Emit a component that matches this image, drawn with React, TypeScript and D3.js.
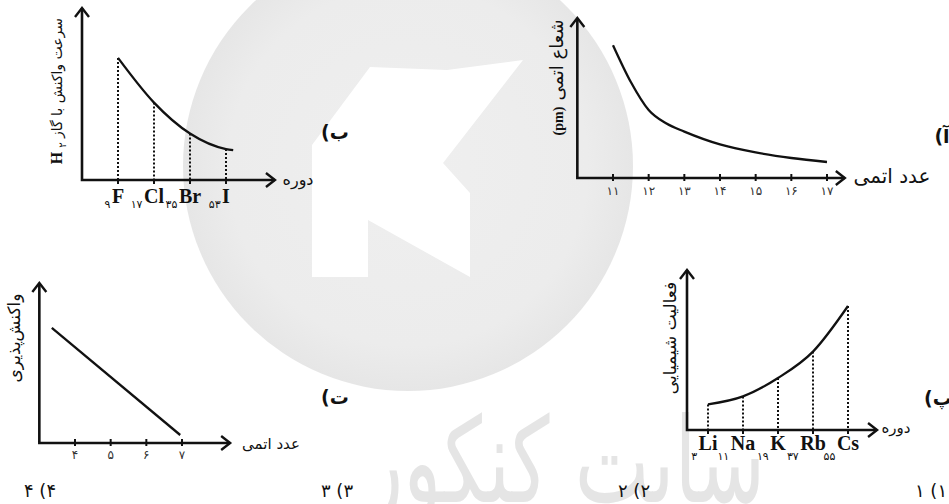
import { useEffect, useRef } from "react";
import * as d3 from "d3";

const FA = "'DejaVu Sans', sans-serif";
const SERIF = "'Liberation Serif', 'Times New Roman', serif";
const INK = "#111";

// (آ) atomic radius vs atomic number, period 3 (half steps read where the curve bends)
const atomicNumbersA = [11, 12, 13, 14, 15, 16, 17];
const atomicLabelsA = ["۱۱", "۱۲", "۱۳", "۱۴", "۱۵", "۱۶", "۱۷"];
const radiusCurveZ = [11, 11.5, 12, 12.5, 13, 14, 15, 16, 17];
const radiusCurve = [83, 60, 42.5, 34, 29, 21, 16, 12.5, 10];

// (ب) rate of reaction with H2, halogens
const halogens = ["F", "Cl", "Br", "I"];
const halogenZ = ["۹", "۱۷", "۳۵", "۵۳"];
const h2Rate = [71, 45, 27, 18];
const h2RateTail = { slot: 3.2, value: 17.4 };

// (پ) chemical activity, alkali metals
const alkali = ["Li", "Na", "K", "Rb", "Cs"];
const alkaliZ = ["۳", "۱۱", "۱۹", "۳۷", "۵۵"];
const activity = [16, 21, 32.5, 49, 77.5];

// (ت) reactivity vs atomic number
const atomicNumbersT = [4, 5, 6, 7];
const atomicLabelsT = ["۴", "۵", "۶", "۷"];
const reactivityLine = [
  { z: 3.35, value: 72 },
  { z: 6.95, value: 5 },
];

const options = ["۱) ۱", "۲) ۲", "۳) ۳", "۴) ۴"];

type G = d3.Selection<SVGGElement, unknown, null, undefined>;

const drawAxes = (g: G, ox: number, oy: number, tipX: number, tipY: number) => {
  g.append("path")
    .attr("d", `M${ox},${tipY}V${oy}H${tipX}`)
    .attr("fill", "none")
    .attr("stroke", INK)
    .attr("stroke-width", 2.6);
  g.append("path")
    .attr("d", `M${ox - 7},${tipY + 9}L${ox},${tipY}L${ox + 7},${tipY + 9}`)
    .attr("fill", "none")
    .attr("stroke", INK)
    .attr("stroke-width", 2.4);
  g.append("path")
    .attr("d", `M${tipX - 9},${oy - 7}L${tipX},${oy}L${tipX - 9},${oy + 7}`)
    .attr("fill", "none")
    .attr("stroke", INK)
    .attr("stroke-width", 2.4);
};

const faText = (g: G, x: number, y: number, text: string, size: number, bold = false) =>
  g
    .append("text")
    .attr("x", x)
    .attr("y", y)
    .attr("direction", "rtl")
    .attr("text-anchor", "middle")
    .attr("font-family", FA)
    .attr("font-size", size)
    .attr("font-weight", bold ? "bold" : "normal")
    .attr("fill", INK)
    .text(text);

const vText = (g: G, x: number, y: number, text: string, size: number, font = FA, weight = "normal") =>
  g
    .append("text")
    .attr("transform", `translate(${x},${y}) rotate(-90)`)
    .attr("direction", font === FA ? "rtl" : "ltr")
    .attr("text-anchor", "middle")
    .attr("font-family", font)
    .attr("font-size", size)
    .attr("font-weight", weight)
    .attr("fill", INK)
    .text(text);

// element symbol with its atomic number as a low, left-hand subscript
const elementLabels = (
  g: G,
  xs: number[],
  symbols: string[],
  numbers: string[],
  baseline: number,
  subBaseline: number
) => {
  symbols.forEach((sym, i) => {
    const t = g
      .append("text")
      .attr("x", xs[i])
      .attr("y", baseline)
      .attr("text-anchor", "middle")
      .attr("font-family", SERIF)
      .attr("font-weight", "bold")
      .attr("font-size", 20)
      .attr("fill", INK)
      .text(sym);
    const bb = (t.node() as SVGTextElement).getBBox();
    g.append("text")
      .attr("x", bb.x - 1.5)
      .attr("y", subBaseline)
      .attr("text-anchor", "end")
      .attr("font-family", FA)
      .attr("font-size", 11)
      .attr("fill", INK)
      .text(numbers[i]);
  });
};

export default function App() {
  const svgRef = useRef<SVGSVGElement>(null);

  useEffect(() => {
    if (!svgRef.current) return;
    const svg = d3.select(svgRef.current);
    svg.selectAll("*").remove();

    // watermark
    const defs = svg.append("defs");
    const grad = defs.append("radialGradient").attr("id", "wm");
    grad.append("stop").attr("offset", "0%").attr("stop-color", "#efefef");
    grad.append("stop").attr("offset", "80%").attr("stop-color", "#ececec");
    grad.append("stop").attr("offset", "100%").attr("stop-color", "#e6e6e6");
    const wm = svg.append("g");
    wm.append("circle").attr("cx", 408).attr("cy", 166).attr("r", 225).attr("fill", "url(#wm)");
    wm.append("path")
      .attr(
        "d",
        "M312,145L370,67L447,70L523,60L443,163L470,193L470,277L368,220L368,277L312,277Z"
      )
      .attr("fill", "#fff");
    wm.append("text")
      .attr("x", 365)
      .attr("y", 502)
      .attr("text-anchor", "start")
      .attr("font-family", FA)
      .attr("font-size", 118)
      .attr("textLength", 400)
      .attr("lengthAdjust", "spacingAndGlyphs")
      .attr("fill", "#e5e5e5")
      .text("سایت کنکور");

    const smooth = d3
      .line<[number, number]>()
      .x((d) => d[0])
      .y((d) => d[1])
      .curve(d3.curveMonotoneX);

    // ---------- (آ)
    {
      const g = svg.append("g");
      const x = d3.scaleLinear().domain([11, 17]).range([613, 827]);
      const y = d3.scaleLinear().domain([0, 100]).range([178, 18]);
      drawAxes(g, x(10), y(0), x(17.5), y(100));
      atomicNumbersA.forEach((z, i) => {
        g.append("line")
          .attr("x1", x(z))
          .attr("x2", x(z))
          .attr("y1", y(0) - 4)
          .attr("y2", y(0) + 3)
          .attr("stroke", INK)
          .attr("stroke-width", 2);
        g.append("text")
          .attr("x", x(z))
          .attr("y", 195)
          .attr("text-anchor", "middle")
          .attr("font-family", FA)
          .attr("font-size", 12)
          .attr("fill", "#333")
          .text(atomicLabelsA[i]);
      });
      g.append("path")
        .attr("d", smooth(radiusCurveZ.map((z, i) => [x(z), y(radiusCurve[i])])))
        .attr("fill", "none")
        .attr("stroke", INK)
        .attr("stroke-width", 2.3);
      faText(g, 892, 183, "عدد اتمی", 20);
      vText(g, 563, 60, "شعاع اتمی", 18);
      vText(g, 563, 121, "(pm)", 14, SERIF, "bold");
      faText(g, 942, 143, "آ)", 19, true);
    }

    // ---------- (ب)
    {
      const g = svg.append("g");
      const x = d3.scaleLinear().domain([0, 3]).range([118, 226]);
      const y = d3.scaleLinear().domain([0, 100]).range([180, 8]);
      drawAxes(g, x(-1), y(0), x(4.36), y(100));
      const pts: [number, number][] = h2Rate.map((v, i) => [x(i), y(v)]);
      pts.push([x(h2RateTail.slot), y(h2RateTail.value)]);
      h2Rate.forEach((v, i) => {
        g.append("line")
          .attr("x1", x(i))
          .attr("x2", x(i))
          .attr("y1", y(v))
          .attr("y2", y(0))
          .attr("stroke", INK)
          .attr("stroke-width", 2)
          .attr("stroke-dasharray", "2,2");
        g.append("line")
          .attr("x1", x(i))
          .attr("x2", x(i))
          .attr("y1", y(0))
          .attr("y2", y(0) + 4)
          .attr("stroke", INK)
          .attr("stroke-width", 2);
      });
      g.append("path")
        .attr("d", smooth(pts))
        .attr("fill", "none")
        .attr("stroke", INK)
        .attr("stroke-width", 2.3);
      elementLabels(g, halogens.map((_, i) => x(i)), halogens, halogenZ, 203, 208);
      faText(g, 298, 185, "دوره", 16);
      vText(g, 62, 78, "سرعت واکنش با گاز", 14);
      vText(g, 62, 158, "H", 16, SERIF, "bold");
      vText(g, 66, 145, "۲", 10);
      faText(g, 335, 139, "ب)", 19, true);
    }

    // ---------- (پ)
    {
      const g = svg.append("g");
      const x = d3.scaleLinear().domain([0, 4]).range([708, 848]);
      const y = d3.scaleLinear().domain([0, 100]).range([430, 270]);
      drawAxes(g, x(-0.6), y(0), x(4.83), y(100));
      activity.forEach((v, i) => {
        g.append("line")
          .attr("x1", x(i))
          .attr("x2", x(i))
          .attr("y1", y(v))
          .attr("y2", y(0))
          .attr("stroke", INK)
          .attr("stroke-width", 2)
          .attr("stroke-dasharray", "2,2");
        g.append("line")
          .attr("x1", x(i))
          .attr("x2", x(i))
          .attr("y1", y(0))
          .attr("y2", y(0) + 4)
          .attr("stroke", INK)
          .attr("stroke-width", 2);
      });
      g.append("path")
        .attr("d", smooth(activity.map((v, i) => [x(i), y(v)])))
        .attr("fill", "none")
        .attr("stroke", INK)
        .attr("stroke-width", 2.3);
      elementLabels(g, alkali.map((_, i) => x(i)), alkali, alkaliZ, 450, 460);
      faText(g, 896, 433, "دوره", 15);
      vText(g, 676, 338, "فعالیت شیمیایی", 17);
      faText(g, 938, 405, "پ)", 19, true);
    }

    // ---------- (ت)
    {
      const g = svg.append("g");
      const x = d3.scaleLinear().domain([4, 7]).range([75, 182]);
      const y = d3.scaleLinear().domain([0, 100]).range([443, 283]);
      drawAxes(g, x(3), y(0), x(8.35), y(100));
      atomicNumbersT.forEach((z, i) => {
        g.append("line")
          .attr("x1", x(z))
          .attr("x2", x(z))
          .attr("y1", y(0) - 4)
          .attr("y2", y(0) + 3)
          .attr("stroke", INK)
          .attr("stroke-width", 2);
        g.append("text")
          .attr("x", x(z))
          .attr("y", 459)
          .attr("text-anchor", "middle")
          .attr("font-family", FA)
          .attr("font-size", 12)
          .attr("fill", "#333")
          .text(atomicLabelsT[i]);
      });
      g.append("path")
        .attr(
          "d",
          d3
            .line<{ z: number; value: number }>()
            .x((d) => x(d.z))
            .y((d) => y(d.value))(reactivityLine)
        )
        .attr("fill", "none")
        .attr("stroke", INK)
        .attr("stroke-width", 2.3);
      faText(g, 271, 449, "عدد اتمی", 15);
      vText(g, 20, 338, "واکنش‌پذیری", 17);
      faText(g, 335, 404, "ت)", 19, true);
    }

    // answer options
    const optX = d3.scalePoint<string>().domain(options).range([931, 40]);
    options.forEach((o) => faText(svg.append("g"), optX(o) as number, 497, o, 18));
  }, []);

  return (
    <svg
      ref={svgRef}
      width={949}
      height={504}
      style={{ position: "absolute", left: 0, top: 0, background: "#fff", display: "block" }}
    />
  );
}
